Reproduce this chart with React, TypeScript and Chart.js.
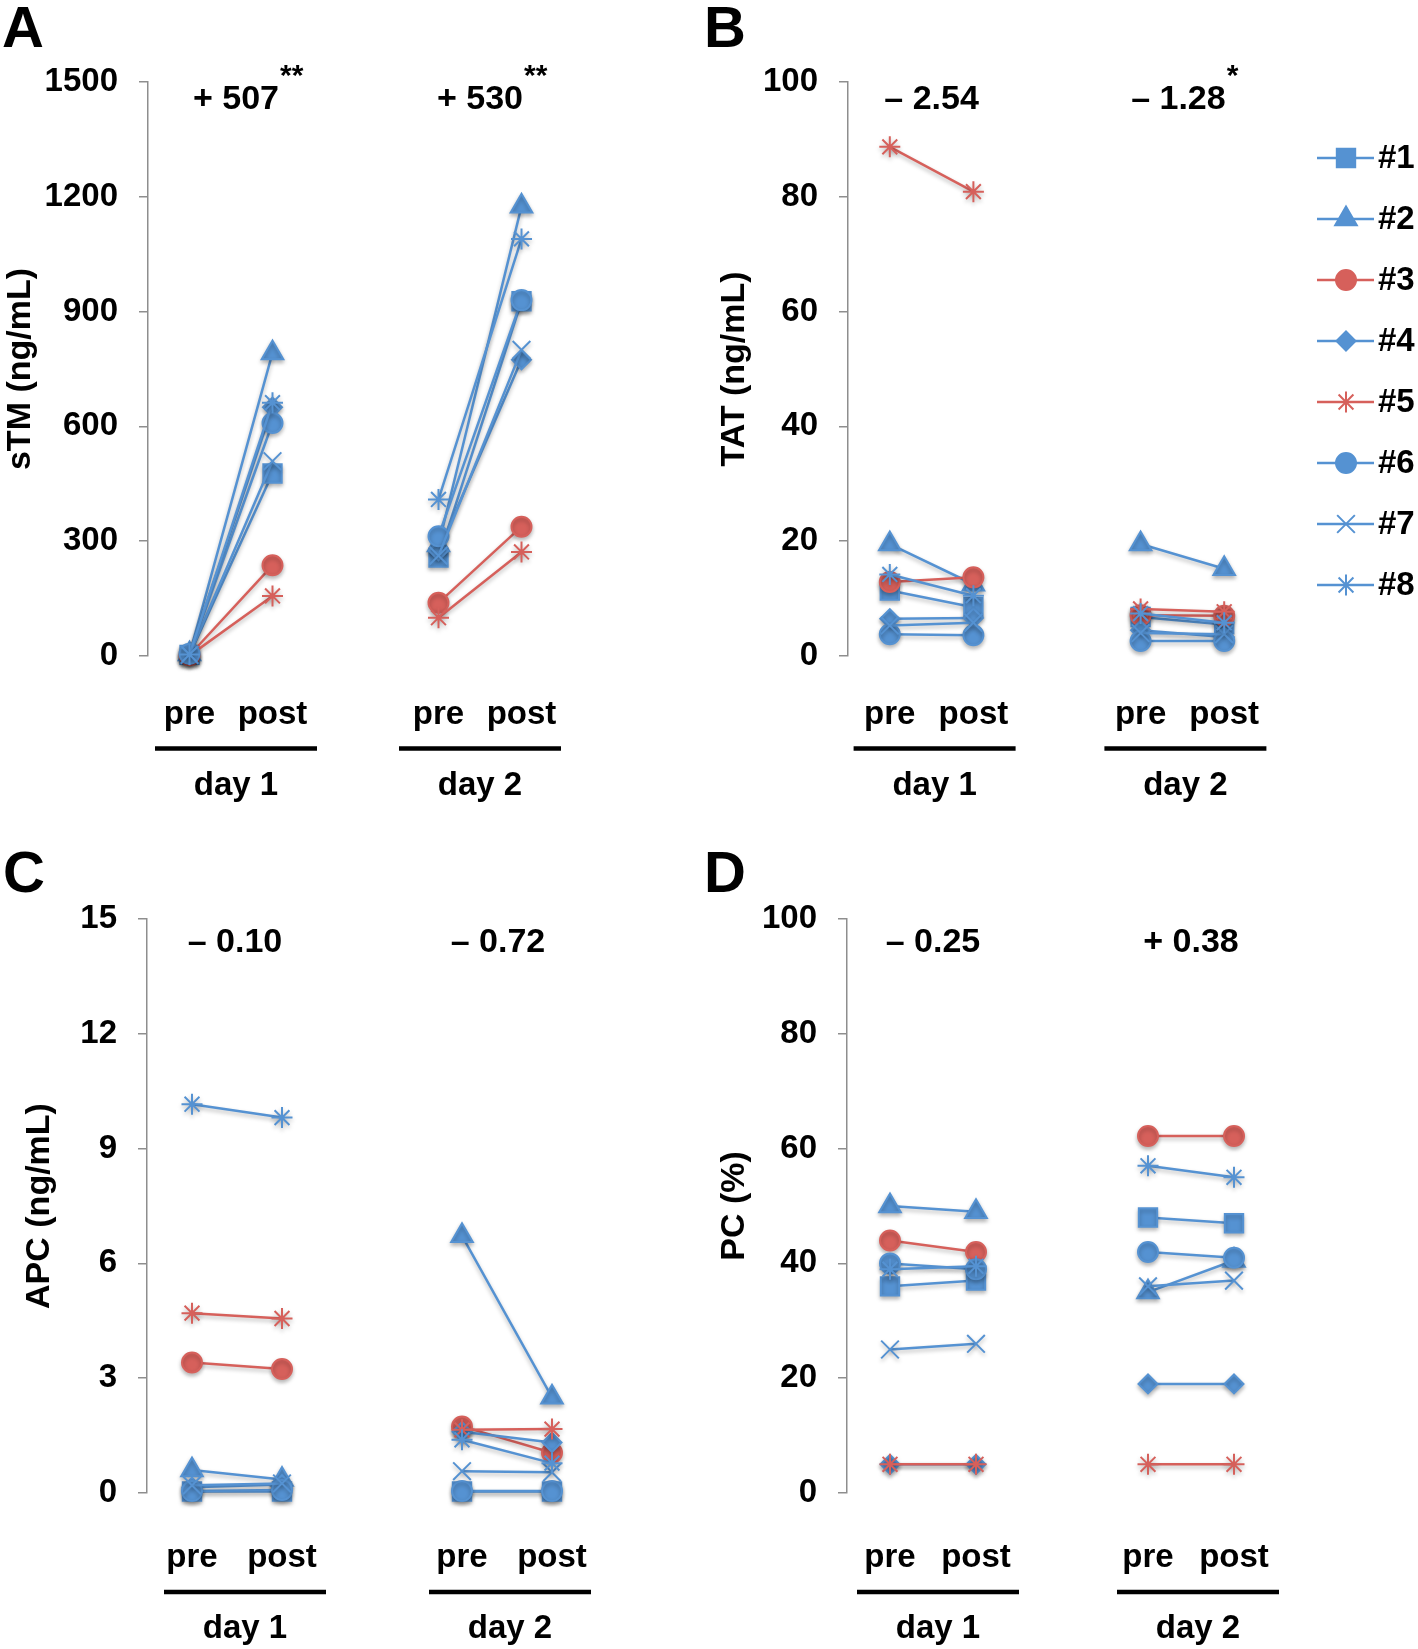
import React, { useEffect, useRef } from 'react';
import { Chart, registerables } from 'chart.js';
import { drawPoint } from 'chart.js/helpers';

Chart.register(...registerables);

// ---------- data ----------
const SERIES_NAMES = ['#1', '#2', '#3', '#4', '#5', '#6', '#7', '#8'];
const BLUE = '#5592d2';
const RED = '#d6605b';
const SERIES_COLORS = [BLUE, BLUE, RED, BLUE, RED, BLUE, BLUE, BLUE];
const SERIES_SHAPES = ['rect', 'triangle', 'circle', 'rectRot', 'star', 'circle', 'crossRot', 'star'];
const SERIES_RADIUS = [13, 12.5, 10, 9.5, 10.5, 10, 12.5, 10.5];

// x positions: pre (day 1), post (day 1), pre (day 2), post (day 2)
const X_POSITIONS = [1, 2, 4, 5];
const X_TICK_LABELS = ['pre', 'post', 'pre', 'post'];
const DAY_LABELS = ['day 1', 'day 2'];

// values per series: [pre d1, post d1, pre d2, post d2]
const STM = [
  [3, 477, 257, 927],
  [5, 792, 290, 1175],
  [2, 237, 139, 338],
  [4, 650, 275, 774],
  [1, 157, 100, 272],
  [6, 609, 313, 930],
  [3, 509, 262, 800],
  [4, 662, 409, 1090],
];
const TAT = [
  [11.4, 8.5, 6.8, 5.5],
  [19.5, 12.5, 19.5, 15.2],
  [12.9, 13.7, 7.1, 7.0],
  [6.5, 6.6, 4.5, 3.3],
  [88.7, 80.9, 8.2, 7.7],
  [3.8, 3.6, 2.6, 2.6],
  [5.3, 5.8, 4.0, 3.8],
  [14.2, 10.5, 7.4, 5.8],
];
const APC = [
  [0.04, 0.04, 0.04, 0.04],
  [0.6, 0.35, 6.72, 2.5],
  [3.41, 3.24, 1.74, 1.05],
  [0.15, 0.22, 1.6, 1.32],
  [4.7, 4.56, 1.65, 1.67],
  [0.05, 0.08, 0.05, 0.05],
  [0.2, 0.25, 0.57, 0.54],
  [10.16, 9.81, 1.39, 0.78],
];
const PC = [
  [36, 37, 48, 47],
  [50, 49, 35, 40.5],
  [44, 42, 62.2, 62.2],
  [5, 5, 19, 19],
  [5, 5, 5, 5],
  [40, 39, 42, 41],
  [25, 26, 36, 37],
  [39, 39.5, 57, 55],
];

const STM_CHANGE = ['+ 507', '+ 530'];
const STM_SIG = ['**', '**'];
const TAT_CHANGE = ['\u2013 2.54', '\u2013 1.28'];
const TAT_SIG = ['', '*'];
const APC_CHANGE = ['\u2013 0.10', '\u2013 0.72'];
const APC_SIG = ['', ''];
const PC_CHANGE = ['\u2013 0.25', '+ 0.38'];
const PC_SIG = ['', ''];

// ---------- layout ----------
const FAMILY = '"Liberation Sans", Arial, Helvetica, sans-serif';
const AXIS_GRAY = '#8e8e8e';
const X_AXIS_H = 110;

type PanelCfg = {
  letter: string;
  left: number; top: number; w: number; h: number;
  area: { left: number; top: number; right: number; bottom: number };
  yMax: number; yStep: number; yTitle: string; titlePad: number;
  values: number[][]; changes: string[]; sig: string[];
  letterPos: [number, number]; annoBase: number; annoDx: number[]; xPad: number;
  lineY: number; dayBase: number; dayDx: number[]; legend: boolean;
};

const PANELS: PanelCfg[] = [
  {
    letter: 'A', left: 0, top: 0, w: 640, h: 820,
    area: { left: 148, top: 82, right: 563, bottom: 656 },
    yMax: 1500, yStep: 300, yTitle: 'sTM (ng/mL)', titlePad: 0,
    values: STM, changes: STM_CHANGE, sig: STM_SIG,
    letterPos: [2, 47], annoBase: 109, annoDx: [5, 0], xPad: 39, lineY: 748.5, dayBase: 795, dayDx: [5, 0], legend: false,
  },
  {
    letter: 'B', left: 640, top: 0, w: 778, h: 820,
    area: { left: 208, top: 82, right: 626, bottom: 656 },
    yMax: 100, yStep: 20, yTitle: 'TAT (ng/mL)', titlePad: 74,
    values: TAT, changes: TAT_CHANGE, sig: TAT_SIG,
    letterPos: [64, 47], annoBase: 109, annoDx: [0, -4], xPad: 39, lineY: 748.5, dayBase: 795, dayDx: [3, 3], legend: true,
  },
  {
    letter: 'C', left: 0, top: 820, w: 640, h: 829,
    area: { left: 147, top: 99, right: 597, bottom: 673 },
    yMax: 15, yStep: 3, yTitle: 'APC (ng/mL)', titlePad: 19,
    values: APC, changes: APC_CHANGE, sig: APC_SIG,
    letterPos: [3, 72], annoBase: 132, annoDx: [-2, -9], xPad: 45, lineY: 772, dayBase: 818, dayDx: [8, 3], legend: false,
  },
  {
    letter: 'D', left: 640, top: 820, w: 778, h: 829,
    area: { left: 207, top: 99, right: 637, bottom: 673 },
    yMax: 100, yStep: 20, yTitle: 'PC (%)', titlePad: 74,
    values: PC, changes: PC_CHANGE, sig: PC_SIG,
    letterPos: [64, 72], annoBase: 132, annoDx: [0, 0], xPad: 45, lineY: 772, dayBase: 818, dayDx: [5, 7], legend: false,
  },
];

const font = (size: number) => ({ family: FAMILY, size, weight: 'bold' as const });

const shadowPlugin = {
  id: 'markerShadow',
  beforeDatasetsDraw(chart: any) {
    const ctx: CanvasRenderingContext2D = chart.ctx;
    ctx.save();
    ctx.shadowColor = 'rgba(0,0,0,0.28)';
    ctx.shadowBlur = 4;
    ctx.shadowOffsetX = 0;
    ctx.shadowOffsetY = 2.5;
  },
  afterDatasetsDraw(chart: any) {
    chart.ctx.restore();
  },
};

function makeDecorPlugin(p: PanelCfg) {
  return {
    id: 'decor' + p.letter,
    afterDraw(chart: any) {
      const ctx: CanvasRenderingContext2D = chart.ctx;
      const xs = chart.scales.x;
      ctx.save();
      ctx.fillStyle = '#000';
      ctx.strokeStyle = '#000';
      // panel letter
      ctx.font = `bold 58px ${FAMILY}`;
      ctx.textAlign = 'left';
      ctx.textBaseline = 'alphabetic';
      ctx.fillText(p.letter, p.letterPos[0], p.letterPos[1]);

      for (let d = 0; d < 2; d++) {
        const x1 = xs.getPixelForValue(X_POSITIONS[d * 2]);
        const x2 = xs.getPixelForValue(X_POSITIONS[d * 2 + 1]);
        const mid = (x1 + x2) / 2;
        // change annotation
        const ax = mid + p.annoDx[d];
        ctx.font = `bold 34px ${FAMILY}`;
        ctx.textAlign = 'center';
        ctx.textBaseline = 'alphabetic';
        ctx.fillText(p.changes[d], ax, p.annoBase);
        if (p.sig[d]) {
          const w = ctx.measureText(p.changes[d]).width;
          ctx.font = `bold 30px ${FAMILY}`;
          ctx.textAlign = 'left';
          ctx.fillText(p.sig[d], ax + w / 2 + 1, p.annoBase - 24);
        }
        // day underline
        const cx = mid + p.dayDx[d];
        ctx.lineWidth = 4.5;
        ctx.beginPath();
        ctx.moveTo(cx - 81, p.lineY);
        ctx.lineTo(cx + 81, p.lineY);
        ctx.stroke();
        ctx.font = `bold 33px ${FAMILY}`;
        ctx.textAlign = 'center';
        ctx.fillText(DAY_LABELS[d], cx, p.dayBase);
      }

      if (p.legend) {
        for (let i = 0; i < SERIES_NAMES.length; i++) {
          const y = 158 + 61 * i;
          ctx.strokeStyle = SERIES_COLORS[i];
          ctx.fillStyle = SERIES_COLORS[i];
          ctx.lineWidth = 2.5;
          ctx.beginPath();
          ctx.moveTo(677, y);
          ctx.lineTo(734, y);
          ctx.stroke();
          ctx.lineWidth = 2;
          drawPoint(ctx, { pointStyle: SERIES_SHAPES[i], rotation: 0, radius: SERIES_RADIUS[i], borderWidth: 2 } as any, 706, y);
          ctx.fillStyle = '#000';
          ctx.font = `bold 33px ${FAMILY}`;
          ctx.textAlign = 'left';
          ctx.textBaseline = 'middle';
          ctx.fillText(SERIES_NAMES[i], 738, y + 1);
          ctx.textBaseline = 'alphabetic';
        }
      }
      ctx.restore();
    },
  };
}

function Panel({ p }: { p: PanelCfg }) {
  const ref = useRef<HTMLCanvasElement>(null);
  useEffect(() => {
    if (!ref.current) return;
    const datasets = SERIES_NAMES.map((name, i) => {
      const v = p.values[i];
      return {
        label: name,
        data: [
          { x: X_POSITIONS[0], y: v[0] },
          { x: X_POSITIONS[1], y: v[1] },
          { x: 3, y: null },
          { x: X_POSITIONS[2], y: v[2] },
          { x: X_POSITIONS[3], y: v[3] },
        ],
        borderColor: SERIES_COLORS[i],
        backgroundColor: SERIES_COLORS[i],
        pointBackgroundColor: SERIES_COLORS[i],
        pointBorderColor: SERIES_COLORS[i],
        pointStyle: SERIES_SHAPES[i],
        pointRadius: SERIES_RADIUS[i],
        pointBorderWidth: 2,
        borderWidth: 2.5,
        spanGaps: false,
        tension: 0,
        clip: false as any,
        order: -i,
      };
    });
    const chart = new Chart(ref.current, {
      type: 'line',
      data: { datasets: datasets as any },
      options: {
        responsive: false,
        animation: false,
        events: [],
        layout: {
          padding: {
            left: 0,
            top: p.area.top,
            right: p.w - p.area.right,
            bottom: p.h - p.area.bottom - X_AXIS_H,
          },
        },
        plugins: { legend: { display: false }, tooltip: { enabled: false } },
        scales: {
          x: {
            type: 'linear',
            min: 0.5,
            max: 5.5,
            grid: { display: false, drawTicks: false },
            border: { display: false },
            afterBuildTicks: (s: any) => {
              s.ticks = X_POSITIONS.map((v) => ({ value: v }));
            },
            ticks: {
              autoSkip: false,
              maxRotation: 0,
              color: '#000',
              font: font(33),
              padding: p.xPad,
              callback: (val: any) => {
                const k = X_POSITIONS.indexOf(Number(val));
                return k >= 0 ? X_TICK_LABELS[k] : '';
              },
            },
            afterFit: (s: any) => {
              s.height = X_AXIS_H;
            },
          },
          y: {
            min: 0,
            max: p.yMax,
            ticks: { stepSize: p.yStep, color: '#000', font: font(33), padding: 21, callback: (v: any) => String(v) },
            grid: { display: true, drawOnChartArea: false, drawTicks: true, tickLength: 9, color: AXIS_GRAY, lineWidth: 1.5 },
            border: { display: true, color: AXIS_GRAY, width: 1.5 },
            title: { display: true, text: p.yTitle, color: '#000', font: font(34), padding: { top: p.titlePad, bottom: 0 } },
            afterFit: (s: any) => {
              s.width = p.area.left;
            },
          },
        },
      },
      plugins: [shadowPlugin, makeDecorPlugin(p)],
    });
    return () => chart.destroy();
  }, [p]);
  return (
    <canvas
      ref={ref}
      width={p.w}
      height={p.h}
      style={{ position: 'absolute', left: p.left, top: p.top, width: p.w, height: p.h, display: 'block' }}
    />
  );
}

export default function App() {
  return (
    <div style={{ position: 'absolute', left: 0, top: 0, width: 1418, height: 1649, background: '#fff', overflow: 'hidden' }}>
      {PANELS.map((p) => (
        <Panel key={p.letter} p={p} />
      ))}
    </div>
  );
}
